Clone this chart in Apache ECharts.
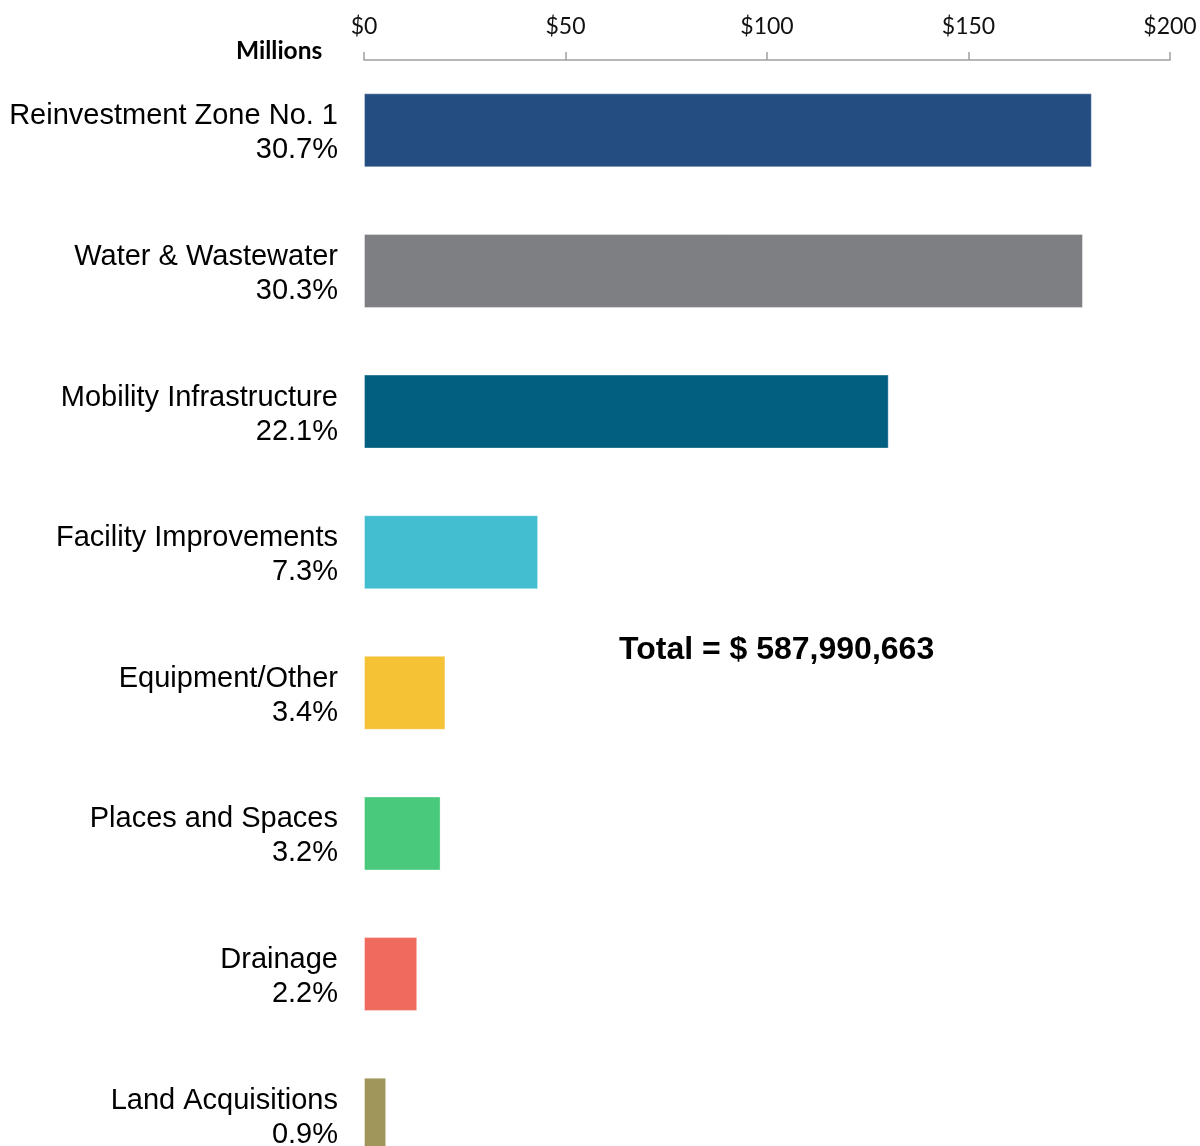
<!DOCTYPE html>
<html>
<head>
<meta charset="utf-8">
<title>Capital Budget by Category</title>
<script src="https://cdn.jsdelivr.net/npm/echarts@6/dist/echarts.min.js"></script>
<style>
  html, body { margin: 0; padding: 0; background: #ffffff; overflow: hidden; }
  /* The last row runs past the bottom edge of the window */
  #chart { width: 1200px; height: 1190px; }
</style>
</head>
<body>
<div id="chart"></div>
<script>
// Program categories, top to bottom
const categories = [
  'Reinvestment Zone No. 1',
  'Water & Wastewater',
  'Mobility Infrastructure',
  'Facility Improvements',
  'Equipment/Other',
  'Places and Spaces',
  'Drainage',
  'Land Acquisitions'
];
// Amounts in millions of dollars
const amounts = [180.6, 178.4, 130.2, 43.2, 20.2, 19.0, 13.2, 5.5];
// Share of the total shown under each category name
const shares = ['30.7%', '30.3%', '22.1%', '7.3%', '3.4%', '3.2%', '2.2%', '0.9%'];
// Bar fill colours
const colors = ['#244e82', '#7d7f82', '#035f7f', '#43bdd0', '#f5c235', '#48c97b', '#ee6b5d', '#a09659'];
// Axis tick values (millions)
const ticks = [0, 50, 100, 150, 200];
const totalText = 'Total = $ 587,990,663';

const chart = echarts.init(document.getElementById('chart'), null, { renderer: 'canvas' });

const option = {
  animation: false,
  backgroundColor: '#ffffff',
  grid: { left: 364, top: 60, width: 806, height: 1125, containLabel: false },
  xAxis: {
    type: 'value',
    position: 'top',
    min: ticks[0],
    max: ticks[ticks.length - 1],
    interval: ticks[1] - ticks[0],
    axisLine: { show: true, lineStyle: { color: '#a0a0a0', width: 1.5 } },
    axisTick: { show: true, inside: false, length: 8, lineStyle: { color: '#a0a0a0', width: 1.5 } },
    splitLine: { show: false },
    axisLabel: {
      margin: 22,
      color: '#111111',
      fontFamily: 'Lato',
      fontSize: 23,
      formatter: v => '$' + v
    }
  },
  yAxis: {
    type: 'category',
    inverse: true,
    data: categories,
    axisLine: { show: false },
    axisTick: { show: false },
    axisLabel: {
      margin: 26,
      align: 'right',
      padding: [6, 0, 0, 0],
      formatter: (name, idx) => '{n|' + name + '}\n{n|' + shares[idx] + '}',
      rich: {
        n: { fontFamily: 'Liberation Sans', fontSize: 29, color: '#000000', lineHeight: 34, align: 'right' }
      }
    }
  },
  series: [{
    type: 'bar',
    barWidth: 74,
    data: amounts.map((v, i) => ({
      value: v,
      itemStyle: { color: colors[i], borderColor: 'rgba(255,255,255,0.35)', borderWidth: 1 }
    }))
  }],
  graphic: [
    {
      type: 'text',
      left: 236,
      top: 39,
      style: { text: 'Millions', fontFamily: 'Lato', fontWeight: 'bold', fontSize: 24.5, fill: '#000000' }
    },
    {
      type: 'text',
      left: 619,
      top: 634,
      style: { text: totalText, fontFamily: 'Liberation Sans', fontWeight: 'bold', fontSize: 32, fill: '#000000' }
    }
  ]
};

chart.setOption(option);
</script>
</body>
</html>
